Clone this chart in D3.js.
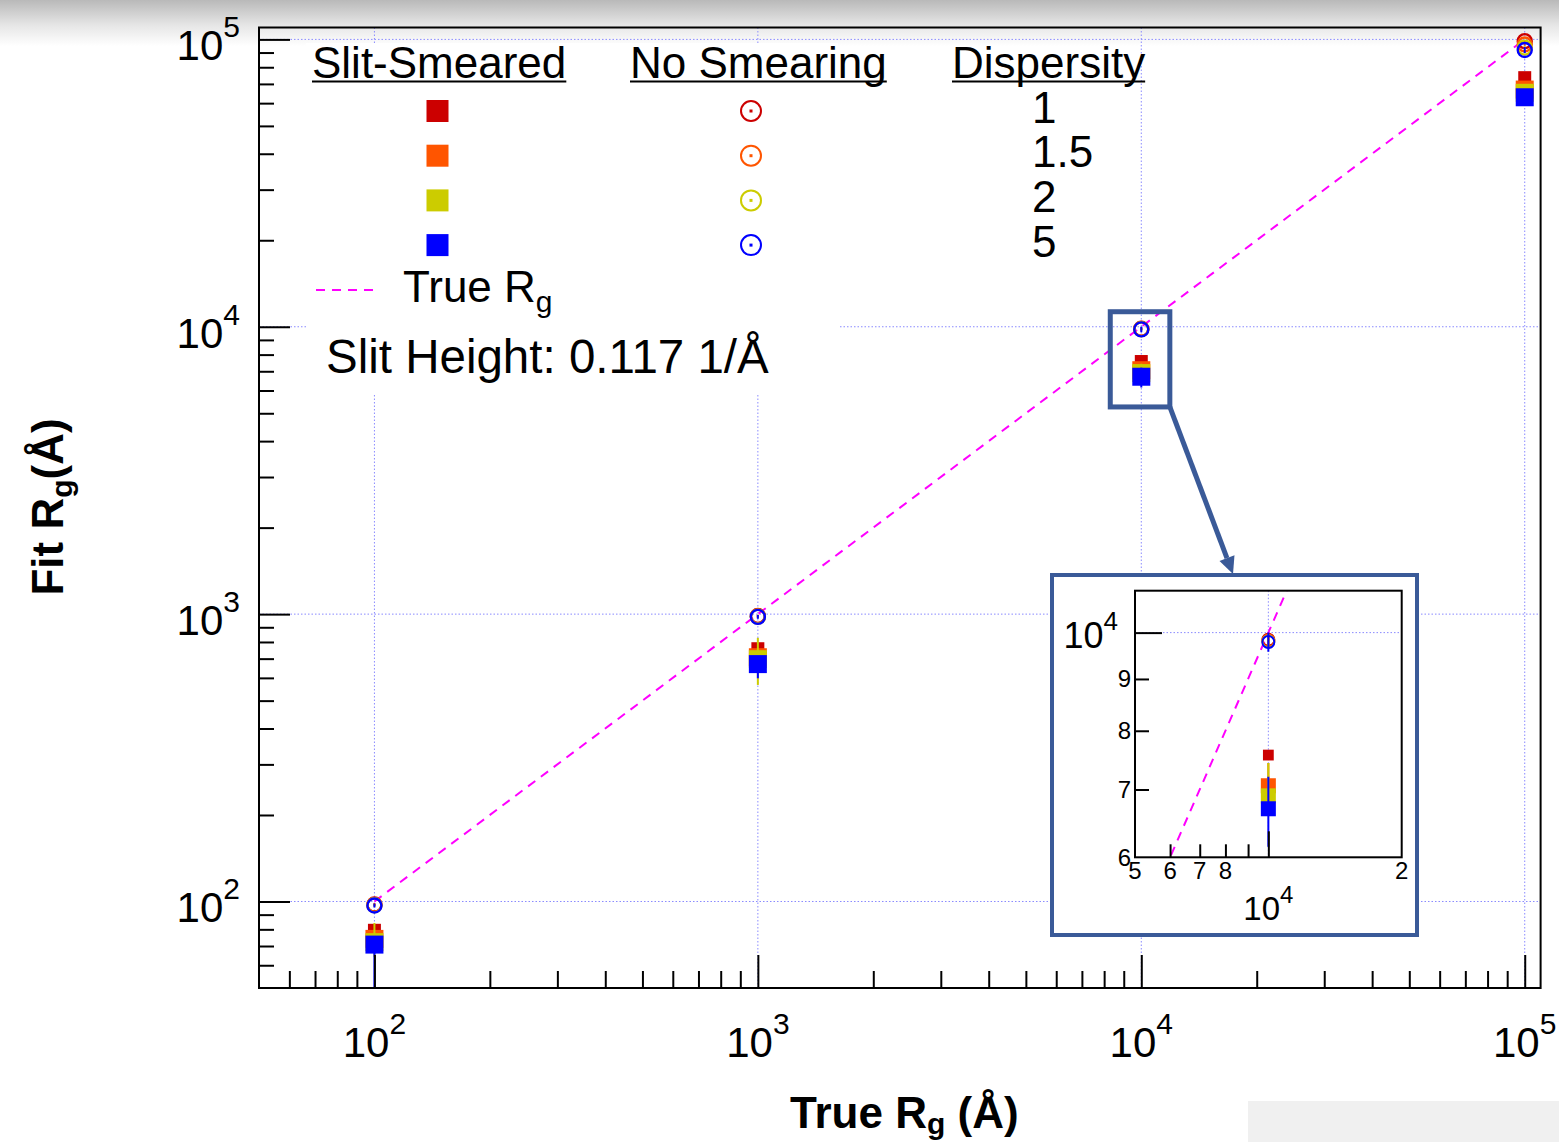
<!DOCTYPE html>
<html>
<head>
<meta charset="utf-8">
<script src="https://cdn.jsdelivr.net/npm/d3@7"></script>
<style>
  body { margin: 0; background: #fff; }
  svg { display: block; font-family: "Liberation Sans", Arial, Helvetica, sans-serif; }
</style>
</head>
<body>
<svg id="chart" width="1559" height="1142"></svg>
<script>
// ---- data ----
const trueRg = [100, 1000, 10000, 100000];
const dispersity = ["1", "1.5", "2", "5"];
const seriesColors = ["#cc0000", "#ff5500", "#cccc00", "#0000ff"];

// slit-smeared fits (value, lower error, upper error)
const slitD1 = [79.4, 758, 7570, 73600];
const slitD15 = [74.1, 708, 7060, 66900];
const slitD2 = [72.2, 697, 6900, 65200];
const slitD5 = [70.8, 670, 6700, 62900];
const slitLowD1 = [1, 8, 60, 800];
const slitHighD1 = [1, 8, 60, 800];
const slitLowD15 = [3, 30, 300, 2000];
const slitHighD15 = [4, 40, 375, 2500];
const slitLowD2 = [8, 130, 300, 2500];
const slitHighD2 = [12, 130, 535, 2500];
const slitLowD5 = [25, 72, 554, 3000];
const slitHighD5 = [1, 5, 505, 1000];

// fits without smearing
const noSmearD1 = [97.6, 985, 9840, 98600];
const noSmearD15 = [97.3, 982, 9820, 96000];
const noSmearD2 = [97.0, 980, 9800, 93600];
const noSmearD5 = [96.8, 978, 9790, 91800];
const noSmearErrD1 = [1, 10, 100, 1000];
const noSmearErrD15 = [1, 10, 100, 1000];
const noSmearErrD2 = [1, 10, 100, 1000];
const noSmearErrD5 = [1.5, 15, 215, 2200];

// axis ticks
const majorTicks = [100, 1000, 10000, 100000];
const tickExponents = ["2", "3", "4", "5"];
const insetXTicks = [5000, 6000, 7000, 8000, 20000];
const insetXLabels = ["5", "6", "7", "8", "2"];
const insetYTicks = [6000, 7000, 8000, 9000];
const insetYLabels = ["6", "7", "8", "9"];
// zoomed region shown in the inset (data units)
const zoomX = [8300, 11870];
const zoomY = [5260, 11280];

// ---- setup ----
const svg = d3.select("#chart");
const FONT = "'Liberation Sans', Arial, Helvetica, sans-serif";
const FRAME_BLUE = "#3a5a98";
const GRID = "#8a8aff";
const MAGENTA = "#ff00ff";

const slitSeries = [
  { v: slitD1, lo: slitLowD1, hi: slitHighD1, c: seriesColors[0], k: 0.72 },
  { v: slitD15, lo: slitLowD15, hi: slitHighD15, c: seriesColors[1], k: 1 },
  { v: slitD2, lo: slitLowD2, hi: slitHighD2, c: seriesColors[2], k: 1 },
  { v: slitD5, lo: slitLowD5, hi: slitHighD5, c: seriesColors[3], k: 1 }
];
const noSmearSeries = [
  { v: noSmearD1, e: noSmearErrD1, c: seriesColors[0] },
  { v: noSmearD15, e: noSmearErrD15, c: seriesColors[1] },
  { v: noSmearD2, e: noSmearErrD2, c: seriesColors[2] },
  { v: noSmearD5, e: noSmearErrD5, c: seriesColors[3] }
];

const defs = svg.append("defs");
const shade = defs.append("linearGradient").attr("id", "topShade")
  .attr("x1", 0).attr("y1", 0).attr("x2", 0).attr("y2", 1);
shade.append("stop").attr("offset", "0%").attr("stop-color", "#b9b9b9");
shade.append("stop").attr("offset", "55%").attr("stop-color", "#e6e6e6");
shade.append("stop").attr("offset", "100%").attr("stop-color", "#ffffff");
svg.append("rect").attr("x", 0).attr("y", 0).attr("width", 1559).attr("height", 46)
  .attr("fill", "url(#topShade)");
svg.append("rect").attr("x", 1248).attr("y", 1101).attr("width", 311).attr("height", 41)
  .attr("fill", "#f0f0f0");

// main plot geometry
const L = 259, R = 1540.6, T = 27.5, B = 988;
const x = d3.scaleLog().domain([50, 110000]).range([L, R]);
const y = d3.scaleLog().domain([50, 110000]).range([B, T]);

defs.append("clipPath").attr("id", "mainClip").append("rect")
  .attr("x", L).attr("y", T).attr("width", R - L).attr("height", B - T);

// grid
const grid = svg.append("g").attr("stroke", GRID).attr("stroke-width", 1)
  .attr("stroke-dasharray", "1.5,2");
grid.selectAll(".gx").data(majorTicks).join("line").attr("class", "gx")
  .attr("x1", d => x(d)).attr("x2", d => x(d)).attr("y1", T).attr("y2", B);
grid.selectAll(".gy").data(majorTicks).join("line").attr("class", "gy")
  .attr("x1", L).attr("x2", R).attr("y1", d => y(d)).attr("y2", d => y(d));

// legend box background
svg.append("rect").attr("x", 306).attr("y", 43).attr("width", 532).attr("height", 352)
  .attr("fill", "#fff");

// generic drawing of the series onto a panel
function drawSeries(g, xs, ys, sq, cr, crw) {
  const line = d3.line().x(d => xs(d)).y(d => ys(d));
  g.append("path").datum([100, 100000]).attr("d", line)
    .attr("fill", "none").attr("stroke", MAGENTA).attr("stroke-width", 2)
    .attr("stroke-dasharray", "9,7");

  slitSeries.forEach(s => {
    const pts = trueRg.map((t, i) => ({ t, v: s.v[i], lo: s.lo[i], hi: s.hi[i] }));
    g.append("g").selectAll("line").data(pts).join("line")
      .attr("x1", d => xs(d.t)).attr("x2", d => xs(d.t))
      .attr("y1", d => ys(d.v - d.lo)).attr("y2", d => ys(d.v + d.hi))
      .attr("stroke", s.c).attr("stroke-width", 2);
    const sz = sq * s.k;
    g.append("g").selectAll("rect").data(pts).join("rect")
      .attr("x", d => xs(d.t) - sz / 2).attr("y", d => ys(d.v) - sz / 2)
      .attr("width", sz).attr("height", sz).attr("fill", s.c);
  });

  noSmearSeries.forEach(s => {
    const pts = trueRg.map((t, i) => ({ t, v: s.v[i], e: s.e[i] }));
    g.append("g").selectAll("line").data(pts).join("line")
      .attr("x1", d => xs(d.t)).attr("x2", d => xs(d.t))
      .attr("y1", d => ys(d.v - d.e)).attr("y2", d => ys(d.v + d.e))
      .attr("stroke", s.c).attr("stroke-width", 2);
    g.append("g").selectAll("circle").data(pts).join("circle")
      .attr("cx", d => xs(d.t)).attr("cy", d => ys(d.v)).attr("r", cr)
      .attr("fill", "none").attr("stroke", s.c).attr("stroke-width", crw);
  });
}

const dataLayer = svg.append("g").attr("clip-path", "url(#mainClip)");
drawSeries(dataLayer, x, y, 18, 7, 2.4);

// minor tick values
function minorTicks(dom) {
  const out = [];
  for (let k = 0; k <= 6; k++) {
    for (let m = 2; m <= 9; m++) {
      const v = m * Math.pow(10, k);
      if (v > dom[0] && v < dom[1]) out.push(v);
    }
  }
  return out;
}

function styleAxis(g) {
  g.select(".domain").remove();
  g.selectAll("line").attr("stroke", "#000").attr("stroke-width", 2);
}

svg.append("g").attr("transform", `translate(0,${B})`)
  .call(d3.axisBottom(x).tickValues(majorTicks).tickSize(-33).tickFormat("")).call(styleAxis);
svg.append("g").attr("transform", `translate(0,${B})`)
  .call(d3.axisBottom(x).tickValues(minorTicks(x.domain())).tickSize(-17).tickFormat("")).call(styleAxis);
svg.append("g").attr("transform", `translate(${L},0)`)
  .call(d3.axisLeft(y).tickValues(majorTicks).tickSize(-31).tickFormat("")).call(styleAxis);
svg.append("g").attr("transform", `translate(${L},0)`)
  .call(d3.axisLeft(y).tickValues(minorTicks(y.domain())).tickSize(-15).tickFormat("")).call(styleAxis);

svg.append("rect").attr("x", L).attr("y", T).attr("width", R - L).attr("height", B - T)
  .attr("fill", "none").attr("stroke", "#000").attr("stroke-width", 2);

// power-of-ten labels
function powText(g, px, py, exp, size, supSize, rise, anchor) {
  const t = g.append("text").attr("x", px).attr("y", py).attr("text-anchor", anchor)
    .attr("font-size", size).attr("fill", "#000").style("font-family", FONT);
  t.append("tspan").text("10");
  t.append("tspan").attr("font-size", supSize).attr("dy", -rise).text(exp);
  return t;
}
const labels = svg.append("g");
majorTicks.forEach((v, i) => {
  powText(labels, x(v), 1057, tickExponents[i], 42, 30, 23, "middle");
  powText(labels, 240, y(v) + 21, tickExponents[i], 42, 30, 23, "end");
});

// axis titles
const xt = svg.append("text").attr("x", 790).attr("y", 1128).attr("font-size", 44)
  .attr("font-weight", "bold").style("font-family", FONT);
xt.append("tspan").text("True R");
xt.append("tspan").attr("font-size", 30).attr("dy", 6).text("g");
xt.append("tspan").attr("dy", -6).text(" (Å)");

const yt = svg.append("text").attr("transform", "translate(63,507) rotate(-90)")
  .attr("text-anchor", "middle").attr("font-size", 44).attr("font-weight", "bold")
  .style("font-family", FONT);
yt.append("tspan").text("Fit R");
yt.append("tspan").attr("font-size", 30).attr("dy", 9).text("g");
yt.append("tspan").attr("dy", -9).text("(Å)");

// ---- legend ----
const leg = svg.append("g").style("font-family", FONT);
const headers = [
  { text: "Slit-Smeared", x: 312 },
  { text: "No Smearing", x: 630 },
  { text: "Dispersity", x: 952 }
];
headers.forEach(h => {
  const t = leg.append("text").attr("x", h.x).attr("y", 78).attr("font-size", 44).text(h.text);
  const w = t.node().getComputedTextLength();
  leg.append("line").attr("x1", h.x).attr("x2", h.x + w).attr("y1", 81.5).attr("y2", 81.5)
    .attr("stroke", "#000").attr("stroke-width", 2);
});
const rowY = i => 111 + i * 44.7;
dispersity.forEach((d, i) => {
  const cy = rowY(i);
  leg.append("rect").attr("x", 437.5 - 11).attr("y", cy - 11).attr("width", 22).attr("height", 22)
    .attr("fill", seriesColors[i]);
  leg.append("circle").attr("cx", 751).attr("cy", cy).attr("r", 10)
    .attr("fill", "none").attr("stroke", seriesColors[i]).attr("stroke-width", 2);
  leg.append("rect").attr("x", 749.5).attr("y", cy - 1.5).attr("width", 3).attr("height", 3)
    .attr("fill", seriesColors[i]);
  leg.append("text").attr("x", 1032).attr("y", cy + 11.5).attr("font-size", 44).text(d);
});
leg.append("line").attr("x1", 316).attr("x2", 380).attr("y1", 290).attr("y2", 290)
  .attr("stroke", MAGENTA).attr("stroke-width", 2).attr("stroke-dasharray", "9,7");
const tr = leg.append("text").attr("x", 403).attr("y", 302).attr("font-size", 44);
tr.append("tspan").text("True R");
tr.append("tspan").attr("font-size", 30).attr("dy", 10).text("g");
leg.append("text").attr("x", 326).attr("y", 373).attr("font-size", 47.5)
  .text("Slit Height: 0.117 1/Å");

// ---- zoom indicator ----
const zx0 = x(zoomX[0]), zx1 = x(zoomX[1]), zy0 = y(zoomY[1]), zy1 = y(zoomY[0]);
svg.append("rect").attr("x", zx0).attr("y", zy0).attr("width", zx1 - zx0).attr("height", zy1 - zy0)
  .attr("fill", "none").attr("stroke", FRAME_BLUE).attr("stroke-width", 5);

// inset frame
const IL = 1052, IT = 575, IW = 365, IH = 360;
const tip = [1233, IT - 1];
const start = [zx1, zy1];
const dx = tip[0] - start[0], dy = tip[1] - start[1];
const len = Math.hypot(dx, dy);
const ux = dx / len, uy = dy / len;
const base = [tip[0] - 17 * ux, tip[1] - 17 * uy];
svg.append("line").attr("x1", start[0]).attr("y1", start[1]).attr("x2", base[0]).attr("y2", base[1])
  .attr("stroke", FRAME_BLUE).attr("stroke-width", 5);
svg.append("polygon").attr("points", [
  tip, [base[0] - 8 * uy, base[1] + 8 * ux], [base[0] + 8 * uy, base[1] - 8 * ux]
].map(p => p.join(",")).join(" ")).attr("fill", FRAME_BLUE);

svg.append("rect").attr("x", IL).attr("y", IT).attr("width", IW).attr("height", IH)
  .attr("fill", "#fff").attr("stroke", FRAME_BLUE).attr("stroke-width", 4);

// ---- inset panel ----
const iL = 1135, iR = 1401.7, iT = 590.7, iB = 857.3;
const xi = d3.scaleLog().domain([5000, 20000]).range([iL, iR]);
const yi = d3.scaleLog().domain([6000, 11000]).range([iB, iT]);
defs.append("clipPath").attr("id", "insetClip").append("rect")
  .attr("x", iL).attr("y", iT).attr("width", iR - iL).attr("height", iB - iT);

const ig = svg.append("g").attr("stroke", GRID).attr("stroke-width", 1).attr("stroke-dasharray", "1.5,2");
ig.append("line").attr("x1", xi(10000)).attr("x2", xi(10000)).attr("y1", iT).attr("y2", iB);
ig.append("line").attr("x1", iL).attr("x2", iR).attr("y1", yi(10000)).attr("y2", yi(10000));

const insetData = svg.append("g").attr("clip-path", "url(#insetClip)");
drawSeries(insetData, xi, yi, 15, 6, 2);

svg.append("g").attr("transform", `translate(0,${iB})`)
  .call(d3.axisBottom(xi).tickValues([6000, 7000, 8000, 9000]).tickSize(-13).tickFormat("")).call(styleAxis);
svg.append("g").attr("transform", `translate(0,${iB})`)
  .call(d3.axisBottom(xi).tickValues([10000]).tickSize(-26).tickFormat("")).call(styleAxis);
svg.append("g").attr("transform", `translate(${iL},0)`)
  .call(d3.axisLeft(yi).tickValues([7000, 8000, 9000]).tickSize(-14).tickFormat("")).call(styleAxis);
svg.append("g").attr("transform", `translate(${iL},0)`)
  .call(d3.axisLeft(yi).tickValues([10000]).tickSize(-27).tickFormat("")).call(styleAxis);
svg.append("rect").attr("x", iL).attr("y", iT).attr("width", iR - iL).attr("height", iB - iT)
  .attr("fill", "none").attr("stroke", "#000").attr("stroke-width", 2);

const il = svg.append("g").style("font-family", FONT).attr("font-size", 24);
insetXTicks.forEach((v, i) => {
  il.append("text").attr("x", xi(v)).attr("y", 879).attr("text-anchor", "middle").text(insetXLabels[i]);
});
insetYTicks.forEach((v, i) => {
  il.append("text").attr("x", 1131).attr("y", yi(v) + 8.5).attr("text-anchor", "end").text(insetYLabels[i]);
});
powText(svg, 1118, yi(10000) + 15, "4", 36, 26, 18, "end");
powText(svg, xi(10000), 920, "4", 33, 24, 17, "middle");
</script>
</body>
</html>
